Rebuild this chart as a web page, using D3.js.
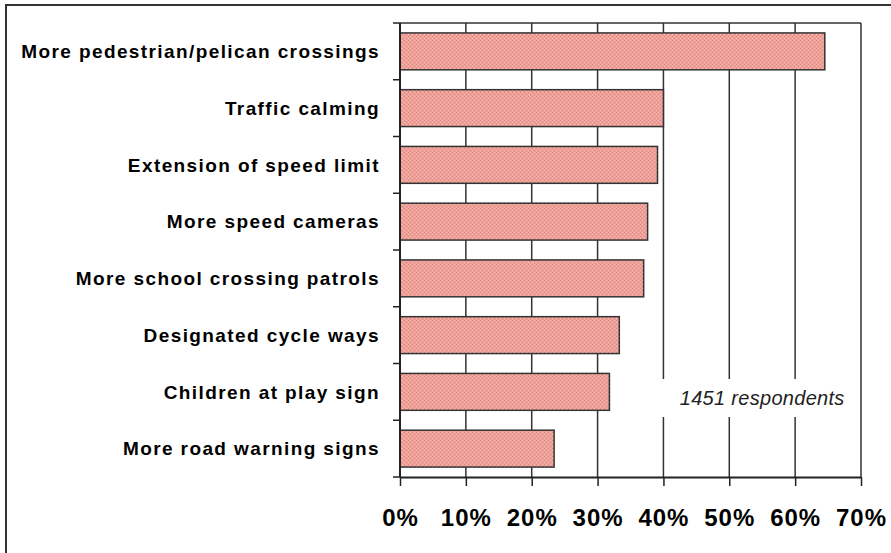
<!DOCTYPE html>
<html>
<head>
<meta charset="utf-8">
<script src="https://cdn.jsdelivr.net/npm/d3@7"></script>
<style>
  body { margin: 0; background: #fff; }
  svg { display: block; font-family: "Liberation Sans", Arial, sans-serif; }
</style>
</head>
<body>
<div id="chart"></div>
<script>
let categories = [
    'More pedestrian/pelican crossings',
    'Traffic calming',
    'Extension of speed limit',
    'More speed cameras',
    'More school crossing patrols',
    'Designated cycle ways',
    'Children at play sign',
    'More road warning signs'
];
let values = [64.5, 40.0, 39.1, 37.6, 37.0, 33.3, 31.8, 23.4];
let ticks = [0, 10, 20, 30, 40, 50, 60, 70];
let note = '1451 respondents';

let width = 891;
let height = 553;
let margin = { top: 23, right: 30, bottom: 76, left: 400 };

let svg = d3.select('#chart')
    .append('svg')
    .attr('width', width)
    .attr('height', height);

// dotted pink fill like the old spreadsheet pattern
let defs = svg.append('defs');
let pat = defs.append('pattern')
    .attr('id', 'dots')
    .attr('width', 4)
    .attr('height', 4)
    .attr('patternUnits', 'userSpaceOnUse');
pat.append('rect').attr('width', 4).attr('height', 4).attr('fill', '#ee9f97');
pat.append('rect').attr('x', 0).attr('y', 0).attr('width', 1).attr('height', 1).attr('fill', '#e0868f');
pat.append('rect').attr('x', 2).attr('y', 2).attr('width', 1).attr('height', 1).attr('fill', '#e0868f');
pat.append('rect').attr('x', 2).attr('y', 0).attr('width', 1).attr('height', 1).attr('fill', '#f6bea6');
pat.append('rect').attr('x', 0).attr('y', 2).attr('width', 1).attr('height', 1).attr('fill', '#f6bea6');

// outer frame
svg.append('rect')
    .attr('x', 6)
    .attr('y', 5)
    .attr('width', 1000)
    .attr('height', 1000)
    .attr('fill', 'none')
    .attr('stroke', '#333')
    .attr('stroke-width', 2);

let x = d3.scaleLinear()
    .domain([0, 70])
    .range([margin.left, width - margin.right]);

let y = d3.scaleBand()
    .domain(categories)
    .range([margin.top, height - margin.bottom])
    .paddingInner(0.35)
    .paddingOuter(0.175);

let plotTop = margin.top;
let plotBottom = height - margin.bottom;

// gridlines
svg.append('g')
    .selectAll('line')
    .data(ticks.slice(1))
    .enter()
    .append('line')
    .attr('x1', d => x(d))
    .attr('x2', d => x(d))
    .attr('y1', plotTop)
    .attr('y2', plotBottom)
    .attr('stroke', '#333')
    .attr('stroke-width', 1.5);

// top border of plot
svg.append('line')
    .attr('x1', x(0))
    .attr('x2', x(70))
    .attr('y1', plotTop)
    .attr('y2', plotTop)
    .attr('stroke', '#333')
    .attr('stroke-width', 1.5);

// white box behind the note
svg.append('rect')
    .attr('x', x(39.6))
    .attr('y', 379)
    .attr('width', x(69.6) - x(39.6))
    .attr('height', 38)
    .attr('fill', '#fff');

svg.append('text')
    .attr('x', (x(40) + x(70)) / 2)
    .attr('y', 405)
    .attr('text-anchor', 'middle')
    .attr('font-size', 20)
    .attr('font-style', 'italic')
    .attr('letter-spacing', 0.3)
    .attr('fill', '#222')
    .text(note);

// bars
svg.append('g')
    .selectAll('rect')
    .data(values)
    .enter()
    .append('rect')
    .attr('x', x(0))
    .attr('y', (d, i) => y(categories[i]))
    .attr('width', d => x(d) - x(0))
    .attr('height', y.bandwidth())
    .attr('fill', 'url(#dots)')
    .attr('stroke', '#333')
    .attr('stroke-width', 1.5);

// left axis line + ticks at band boundaries
svg.append('line')
    .attr('x1', x(0))
    .attr('x2', x(0))
    .attr('y1', plotTop)
    .attr('y2', plotBottom)
    .attr('stroke', '#222')
    .attr('stroke-width', 2);

let step = y.step();
svg.append('g')
    .selectAll('line')
    .data(d3.range(categories.length + 1))
    .enter()
    .append('line')
    .attr('x1', x(0) - 7)
    .attr('x2', x(0))
    .attr('y1', i => plotTop + i * step)
    .attr('y2', i => plotTop + i * step)
    .attr('stroke', '#222')
    .attr('stroke-width', 1.5);

// category labels
svg.append('g')
    .selectAll('text')
    .data(categories)
    .enter()
    .append('text')
    .attr('x', 380)
    .attr('y', d => y(d) + y.bandwidth() / 2)
    .attr('dy', '0.35em')
    .attr('text-anchor', 'end')
    .attr('font-size', 19)
    .attr('font-weight', 'bold')
    .attr('letter-spacing', 1.4)
    .attr('fill', '#000')
    .text(d => d);

// bottom axis
let xAxis = d3.axisBottom(x)
    .tickValues(ticks)
    .tickFormat(d => d + '%')
    .tickSizeInner(9)
    .tickSizeOuter(0)
    .tickPadding(23);

let gx = svg.append('g')
    .attr('transform', 'translate(0,' + plotBottom + ')')
    .call(xAxis);
gx.select('.domain').attr('stroke', '#222').attr('stroke-width', 2);
gx.selectAll('.tick line').attr('stroke', '#222').attr('stroke-width', 1.5);
gx.selectAll('.tick text')
    .attr('font-size', 24)
    .attr('font-weight', 'bold')
    .attr('letter-spacing', 1)
    .attr('fill', '#000')
    .attr('font-family', '"Liberation Sans", Arial, sans-serif');
</script>
</body>
</html>
